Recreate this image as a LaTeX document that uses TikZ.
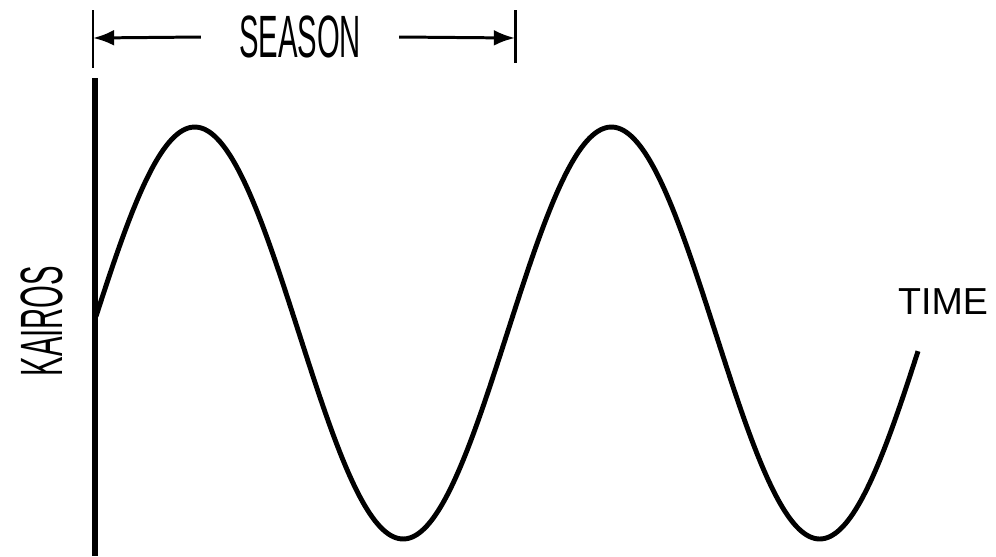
\documentclass[tikz,border=0pt]{standalone}
\usepackage{fontspec}
\setmainfont{Liberation Sans}
\newfontfamily\narrowfont[FakeStretch=0.49]{Liberation Sans}
\usetikzlibrary{arrows.meta}

\begin{document}
\begin{tikzpicture}[x=0.02cm,y=-0.02cm,
    dimline/.style={line width=1.7pt},
    dimarrow/.style={dimline,-{Latex[length=12pt,width=9pt]}},
    wave/.style={line width=2.8pt,line join=round},
    bigcaps/.style={font=\narrowfont\fontsize{34}{34}\selectfont,inner sep=0pt}]
  \useasboundingbox (0,0) rectangle (996,556);
  % axis and season ticks
  \coordinate (ltop) at (93,10);  \coordinate (lbot) at (93,68);
  \coordinate (rtop) at (515,10); \coordinate (rbot) at (515,63);
  \coordinate (lmid) at (93,38);  \coordinate (rmid) at (515,38);
  \coordinate (axtop) at (95,78); \coordinate (axbot) at (95,556);
  \draw[dimline] (ltop) -- (lbot);
  \draw[dimline] (rtop) -- (rbot);
  \draw[line width=3pt] (axtop) -- (axbot);
  \node[bigcaps,inner xsep=21.5pt] (season) at (300,37) {SEASON};
  \draw[dimarrow] (season.west) -- (lmid);
  \draw[dimarrow] (season.east) -- (rmid);
  \node[bigcaps,rotate=90] (kairos) at (41.5,321) {KAIROS};
  \node[font=\fontsize{21.4}{21.4}\selectfont,inner sep=0pt] (time) at (943,301.5) {TIME};
  % the wave
  \draw[wave] plot[domain=96:918,samples=160,smooth] (\x,{333-206*sin(0.86414*(\x-90.65))});
\end{tikzpicture}
\end{document}
